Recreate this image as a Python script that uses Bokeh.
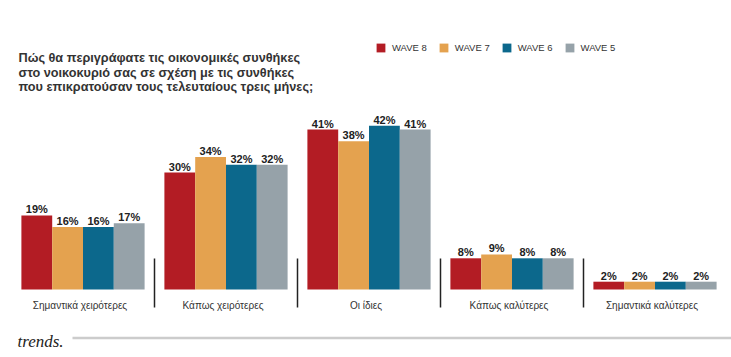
from bokeh.plotting import figure
from bokeh.models import ColumnDataSource, Range1d, Label, Legend, LegendItem
from bokeh.transform import dodge
from bokeh.core.properties import value
from bokeh.embed import file_html
from bokeh.resources import INLINE

# ---------------- data ----------------
categories = ["Σημαντικά χειρότερες", "Κάπως χειρότερες", "Οι ίδιες",
              "Κάπως καλύτερες", "Σημαντικά καλύτερες"]
waves = ["WAVE 8", "WAVE 7", "WAVE 6", "WAVE 5"]
wave8 = [19, 30, 41, 8, 2]
wave7 = [16, 34, 38, 9, 2]
wave6 = [16, 32, 42, 8, 2]
wave5 = [17, 32, 41, 8, 2]
title_lines = ["Πώς θα περιγράφατε τις οικονομικές συνθήκες",
               "στο νοικοκυριό σας σε σχέση με τις συνθήκες",
               "που επικρατούσαν τους τελευταίους τρεις μήνες;"]
brand = "trends."

# ---------------- styling ----------------
colors = ["#B31C24", "#E4A24F", "#0C688C", "#96A2A9"]
W, H = 731, 357
X0, DX = 82.5, 143.0      # pixel centre of first group, group pitch
Y0, PPU = 289.0, 3.9      # baseline pixel, pixels per percentage point


def px2x(px):
    return (px - X0) / DX


def px2y(py):
    return (Y0 - py) / PPU


series = [wave8, wave7, wave6, wave5]
data = {"x": list(range(len(categories))), "cat": categories}
for i, s in enumerate(series):
    data[f"v{i}"] = s
    data[f"l{i}"] = [f"{v}%" for v in s]
source = ColumnDataSource(data)

p = figure(width=W, height=H, output_backend="svg", toolbar_location=None,
           x_range=Range1d(px2x(0), px2x(W)), y_range=Range1d(px2y(H), px2y(0)),
           x_axis_location=None, y_axis_location=None, min_border=0,
           background_fill_color="white", border_fill_color="white")
p.grid.visible = False
p.outline_line_color = None

bw = 30.8 / DX
offsets = [(-1.5 + i) * bw for i in range(4)]

items = []
for i in range(4):
    r = p.vbar(x=dodge("x", offsets[i], range=p.x_range), top=f"v{i}", bottom=0,
               width=bw, source=source, fill_color=colors[i], line_color=None)
    items.append(LegendItem(label=waves[i], renderers=[r]))
    p.text(x=dodge("x", offsets[i], range=p.x_range), y=f"v{i}", text=f"l{i}",
           source=source, text_align="center", text_baseline="alphabetic",
           y_offset=-6, text_font=value("Liberation Sans"), text_font_style="bold",
           text_font_size="11px", text_color="#222222")

# category labels
p.text(x="x", y=0, text="cat", source=source, text_align="center",
       text_baseline="alphabetic", y_offset=16, x_offset=-3,
       text_font=value("Liberation Sans"), text_font_size="10px",
       text_color="#333333")

# separators between groups
sep_x = [i + 0.5 for i in range(len(categories) - 1)]
p.segment(x0=sep_x, x1=sep_x, y0=[px2y(258)] * len(sep_x), y1=[px2y(307)] * len(sep_x),
          line_color="#222222", line_width=1.5)

# title
for k, line in enumerate(title_lines):
    p.add_layout(Label(x=px2x(18), y=px2y(57.3 + 14.7 * k), text=line,
                       text_font="Liberation Sans", text_font_style="bold",
                       text_font_size="12.7px", text_color="#333333",
                       text_baseline="alphabetic"))

# legend
legend = Legend(items=items, orientation="horizontal", location=(375, H - 53),
                glyph_width=11, glyph_height=11, label_standoff=6, spacing=11,
                padding=0, margin=0, border_line_color=None,
                background_fill_alpha=0, label_text_font="Liberation Sans",
                label_text_font_size="9.5px", label_text_color="#333333",
                label_height=11)
p.add_layout(legend)

# footer
p.add_layout(Label(x=px2x(17), y=px2y(341), text=brand, text_font="Liberation Serif",
                   text_font_style="italic", text_font_size="17px",
                   text_color="#222222", text_baseline="alphabetic"))
p.segment(x0=[px2x(72)], x1=[px2x(W)], y0=[px2y(337.5)], y1=[px2y(337.5)],
          line_color="#CCCCCC", line_width=2.5)

open("out.html", "w").write(file_html(p, INLINE))
